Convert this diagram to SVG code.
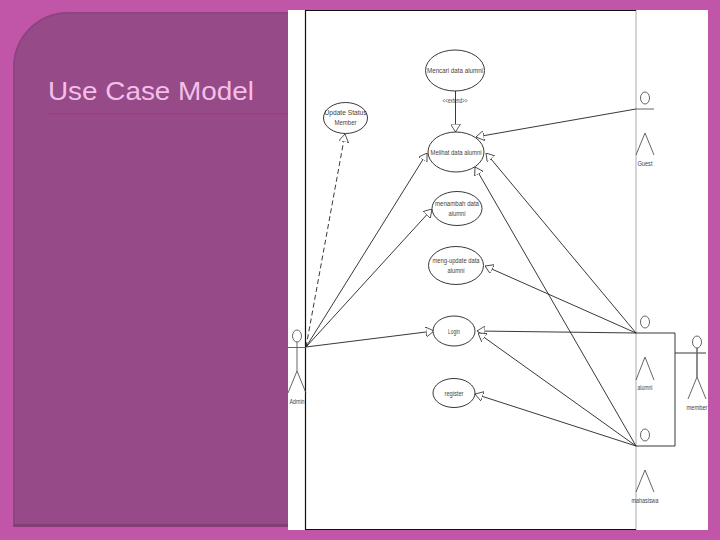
<svg xmlns="http://www.w3.org/2000/svg" width="720" height="540" viewBox="0 0 720 540">
<style>
.ln{fill:none;stroke:#222;stroke-width:.9}
.uc{fill:#fff;stroke:#222;stroke-width:.9}
.ac{fill:none;stroke:#555;stroke-width:.9}
.t{font-family:"Liberation Sans",Arial,sans-serif;font-size:7.5px;fill:#222;text-anchor:middle;opacity:.85}
</style>
<defs>
<marker id="tri" viewBox="0 0 8 10" refX="8" refY="5" markerWidth="8" markerHeight="10" markerUnits="userSpaceOnUse" orient="auto">
<path d="M0 0L8 5L0 10Z" fill="#fff" stroke="#333" stroke-width="0.8"/>
</marker>
</defs>
<rect width="720" height="540" fill="#c155a7"/>
<path d="M13 527V67A55 55 0 0 1 68 12H288V527Z" fill="#964a87"/>
<path d="M14 527V67A54 54 0 0 1 68 13H288" fill="none" stroke="#8a4480" stroke-width="1.500"/>
<path d="M14 525.500H288" fill="none" stroke="#7f3d72" stroke-width="2.500"/>
<text x="48" y="99.500" font-family="'Liberation Sans',Arial,sans-serif" font-size="26" fill="#f8c6ee" textLength="206" lengthAdjust="spacingAndGlyphs" opacity=".95">Use Case Model</text>
<rect x="48" y="113" width="240" height="1.500" fill="#a53b78"/>
<rect x="288" y="10" width="420" height="520" fill="#fff"/>
<path d="M636 10V530" fill="none" stroke="#aaa" stroke-width="1"/>
<path d="M636 10.500H305.500V529.500H636" fill="none" stroke="#111" stroke-width="1.200"/>
<g id="connectors">
<path class="ln" d="M455.500 91V132" marker-end="url(#tri)"/>
<path class="ln" d="M306 347L345 134" stroke-dasharray="5 3" marker-end="url(#tri)"/>
<path class="ln" d="M306 347L427 153" marker-end="url(#tri)"/>
<path class="ln" d="M306 347L432 209" marker-end="url(#tri)"/>
<path class="ln" d="M306 347L434 331" marker-end="url(#tri)"/>
<path class="ln" d="M636 109L476 137" marker-end="url(#tri)"/>
<path class="ln" d="M636 333L486 153" marker-end="url(#tri)"/>
<path class="ln" d="M636 446L475 167" marker-end="url(#tri)"/>
<path class="ln" d="M636 333L485 266" marker-end="url(#tri)"/>
<path class="ln" d="M636 333L477 331" marker-end="url(#tri)"/>
<path class="ln" d="M636 446L478 333" marker-end="url(#tri)"/>
<path class="ln" d="M636 446L475 394" marker-end="url(#tri)"/>
<path class="ln" d="M636 333H675V446H636M675 353H706"/>
</g>
<g id="uc-mencari"><ellipse class="uc" cx="455" cy="70.500" rx="29.500" ry="20.500"/><text class="t" x="455" y="73" textLength="56" lengthAdjust="spacingAndGlyphs">Mencari data alumni</text></g>
<text class="t" x="455" y="103" textLength="25" lengthAdjust="spacingAndGlyphs">&lt;&lt;extend&gt;&gt;</text>
<g id="uc-update"><ellipse class="uc" cx="345.500" cy="118" rx="22" ry="15.500"/><text class="t" x="345.500" y="115" textLength="42" lengthAdjust="spacingAndGlyphs">Update Status</text><text class="t" x="345.500" y="125" textLength="22" lengthAdjust="spacingAndGlyphs">Member</text></g>
<g id="uc-melihat"><ellipse class="uc" cx="456" cy="152" rx="28" ry="20"/><text class="t" x="456" y="154.500" textLength="51" lengthAdjust="spacingAndGlyphs">Melihat data alumni</text></g>
<g id="uc-menambah"><ellipse class="uc" cx="457" cy="208.500" rx="25" ry="17"/><text class="t" x="457" y="206" textLength="44" lengthAdjust="spacingAndGlyphs">menambah data</text><text class="t" x="457" y="216" textLength="17" lengthAdjust="spacingAndGlyphs">alumni</text></g>
<g id="uc-update-data"><ellipse class="uc" cx="456" cy="265.500" rx="27.500" ry="19"/><text class="t" x="456" y="263" textLength="47" lengthAdjust="spacingAndGlyphs">meng-update data</text><text class="t" x="456" y="273" textLength="17" lengthAdjust="spacingAndGlyphs">alumni</text></g>
<g id="uc-login"><ellipse class="uc" cx="454" cy="331" rx="21" ry="15"/><text class="t" x="454" y="333.500" textLength="12" lengthAdjust="spacingAndGlyphs">Login</text></g>
<g id="uc-register"><ellipse class="uc" cx="454" cy="393" rx="21" ry="14.500"/><text class="t" x="454" y="395.500" textLength="19" lengthAdjust="spacingAndGlyphs">register</text></g>
<g id="actor-guest"><ellipse class="ac" cx="645" cy="98" rx="4.500" ry="6"/><path class="ac" d="M636 109H654M636 155L645 133L654 155"/><text class="t" x="645" y="166" textLength="15" lengthAdjust="spacingAndGlyphs">Guest</text></g>
<g id="actor-alumni"><ellipse class="ac" cx="645" cy="322" rx="4.500" ry="6"/><path class="ac" d="M636 380L645 357L654 380"/><text class="t" x="645" y="390" textLength="15" lengthAdjust="spacingAndGlyphs">alumni</text></g>
<g id="actor-mahasiswa"><ellipse class="ac" cx="645" cy="435" rx="4.500" ry="6"/><path class="ac" d="M636 492L645 470L654 492"/><text class="t" x="645" y="503" textLength="27" lengthAdjust="spacingAndGlyphs">mahasiswa</text></g>
<g id="actor-admin"><ellipse class="ac" cx="297" cy="336" rx="4.500" ry="6"/><path class="ac" d="M297 342V371M288 347.500H306M288 393L297 371L306 393"/><text class="t" x="297" y="404" textLength="15" lengthAdjust="spacingAndGlyphs">Admin</text></g>
<g id="actor-member"><ellipse class="ac" cx="697" cy="342" rx="4.500" ry="6"/><path class="ac" d="M688 399L697 377L706 399"/><path d="M697 348V377" fill="none" stroke="#666" stroke-width="1.500"/><text class="t" x="697" y="410" textLength="21" lengthAdjust="spacingAndGlyphs">member</text></g>
</svg>
